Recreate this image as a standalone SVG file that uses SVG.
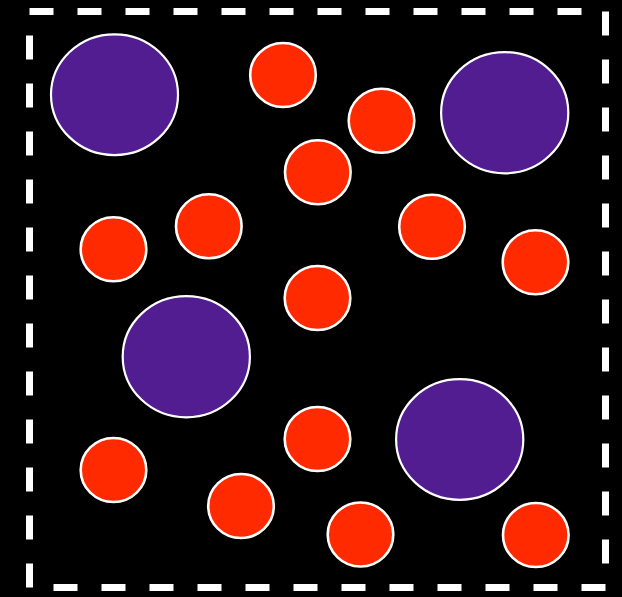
<svg xmlns="http://www.w3.org/2000/svg" width="622" height="597" viewBox="0 0 622 597">
<style>
.frame{fill:none;stroke:#fff;stroke-width:7;stroke-dasharray:24 24}
.big{fill:#521d91;stroke:#fff;stroke-width:2.2}
.small{fill:#ff2a00;stroke:#fff;stroke-width:2.6}
</style>
<rect width="622" height="597" fill="#000"/>
<g id="frame"><rect class="frame" x="29.5" y="11.5" width="576" height="576"/></g>
<g id="big-particles">
<ellipse id="p1" class="big" cx="114.5" cy="94.7" rx="63.5" ry="60.4"/>
<ellipse id="p2" class="big" cx="186.3" cy="356.7" rx="63.6" ry="60.6"/>
<ellipse id="p3" class="big" cx="459.7" cy="439.5" rx="63.6" ry="60.3"/>
<ellipse id="p4" class="big" cx="504.7" cy="112.7" rx="63.6" ry="60.6"/>
</g>
<g id="small-particles">
<ellipse id="s1" class="small" cx="283" cy="75" rx="32.8" ry="32"/>
<ellipse id="s2" class="small" cx="381.5" cy="120.8" rx="32.8" ry="32"/>
<ellipse id="s3" class="small" cx="317.8" cy="172.3" rx="32.8" ry="32"/>
<ellipse id="s4" class="small" cx="113.5" cy="249.3" rx="32.8" ry="32"/>
<ellipse id="s5" class="small" cx="208.8" cy="226.3" rx="32.8" ry="32"/>
<ellipse id="s6" class="small" cx="432" cy="226.7" rx="32.8" ry="32"/>
<ellipse id="s7" class="small" cx="535.5" cy="262.3" rx="32.8" ry="32"/>
<ellipse id="s8" class="small" cx="317.5" cy="298" rx="32.8" ry="32"/>
<ellipse id="s9" class="small" cx="317.5" cy="439" rx="32.8" ry="32"/>
<ellipse id="s10" class="small" cx="113.5" cy="470" rx="32.8" ry="32"/>
<ellipse id="s11" class="small" cx="241" cy="506" rx="32.8" ry="32"/>
<ellipse id="s12" class="small" cx="360.5" cy="534.5" rx="32.8" ry="32"/>
<ellipse id="s13" class="small" cx="535.8" cy="535" rx="32.8" ry="32"/>
</g>
</svg>
